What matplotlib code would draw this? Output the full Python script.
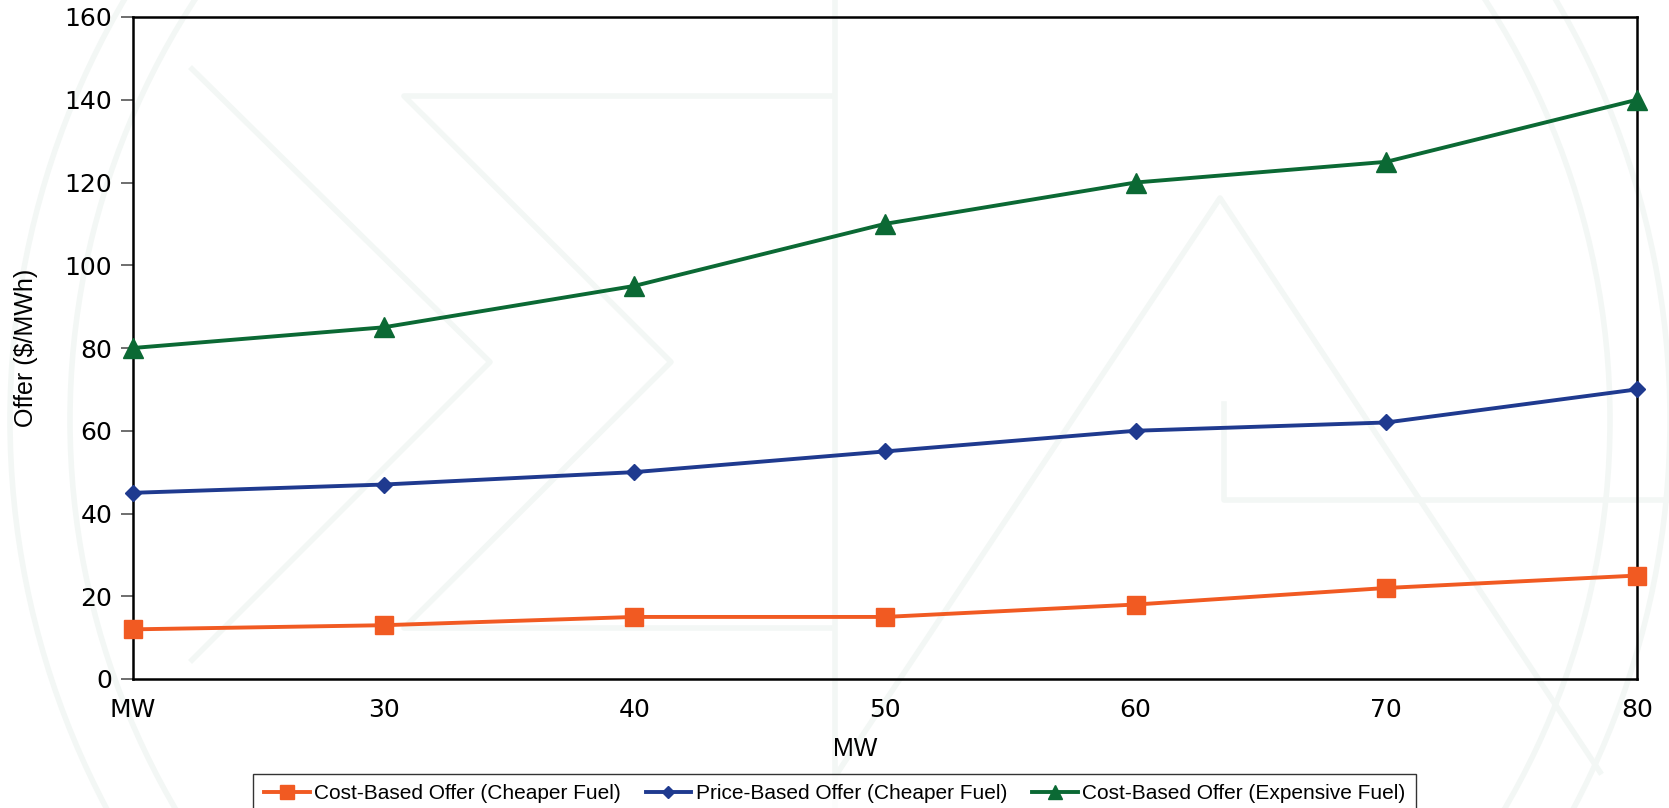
import matplotlib.pyplot as plt
from matplotlib.patches import Circle

# Offer curves by output level
mw_labels = ['MW', '30', '40', '50', '60', '70', '80']
cost_cheaper = [12, 13, 15, 15, 18, 22, 25]
price_cheaper = [45, 47, 50, 55, 60, 62, 70]
cost_expensive = [80, 85, 95, 110, 120, 125, 140]

fig = plt.figure(figsize=(16.69, 8.08), dpi=100)

# very faint watermark logo behind the chart (pixel coords)
bg = fig.add_axes([0, 0, 1, 1], zorder=-5)
bg.set_xlim(0, 1669)
bg.set_ylim(808, 0)
bg.axis('off')
wm = '#f3f7f5'
for r in (770, 830):
    bg.add_patch(Circle((840, 420), r, fill=False, edgecolor=wm, linewidth=4))
bg.plot([192, 490, 192], [69, 362, 660], color=wm, lw=4)
bg.plot([830, 404, 671, 404, 830], [96, 96, 362, 628, 628], color=wm, lw=4)
bg.plot([835, 835], [0, 808], color=wm, lw=4)
bg.plot([838, 1220, 1600], [772, 198, 772], color=wm, lw=4)
bg.plot([1224, 1224, 1669], [404, 500, 500], color=wm, lw=4)

ax = fig.add_axes([133 / 1669, 1 - 679 / 808, (1637 - 133) / 1669, (679 - 17) / 808])
ax.patch.set_alpha(0)

x = list(range(len(mw_labels)))
ax.plot(x, cost_cheaper, color='#f15a22', linewidth=2.8, marker='s', markersize=13,
        label='Cost-Based Offer (Cheaper Fuel)', clip_on=False, zorder=3)
ax.plot(x, price_cheaper, color='#1f3a8f', linewidth=2.8, marker='D', markersize=8,
        label='Price-Based Offer (Cheaper Fuel)', clip_on=False, zorder=3)
ax.plot(x, cost_expensive, color='#0b6934', linewidth=2.8, marker='^', markersize=14,
        label='Cost-Based Offer (Expensive Fuel)', clip_on=False, zorder=3)

ax.set_xlim(0, 6)
ax.set_ylim(0, 160)
ax.set_yticks(range(0, 161, 20))
ax.set_xticks(x)
ax.set_xticklabels(mw_labels)
ax.tick_params(axis='y', labelsize=18, length=9, width=1.2, color='#555555', pad=6)
ax.tick_params(axis='x', labelsize=18, length=0, pad=14)
ax.set_xticks([0], minor=True)
ax.tick_params(axis='x', which='minor', length=9, width=1.2, color='#555555')

for s in ax.spines.values():
    s.set_linewidth(1.8)
    s.set_color('black')

ax.set_xlabel('MW', fontsize=18, family='Liberation Sans')
ax.xaxis.set_label_coords(0.48, -0.088)
ax.set_ylabel('Offer ($/MWh)', fontsize=18, family='Liberation Sans')
ax.yaxis.set_label_coords(-0.063, 0.5)

leg = fig.legend(loc='lower center', bbox_to_anchor=(0.5, -0.02), ncol=3,
                 prop={'family': 'Liberation Sans', 'size': 15}, frameon=True,
                 fancybox=False, edgecolor='black', handlelength=2.2,
                 handletextpad=0.2, columnspacing=1.2, borderpad=0.5,
                 markerscale=0.75)
leg.get_frame().set_linewidth(1.0)

fig.savefig('out.png', dpi=100)
